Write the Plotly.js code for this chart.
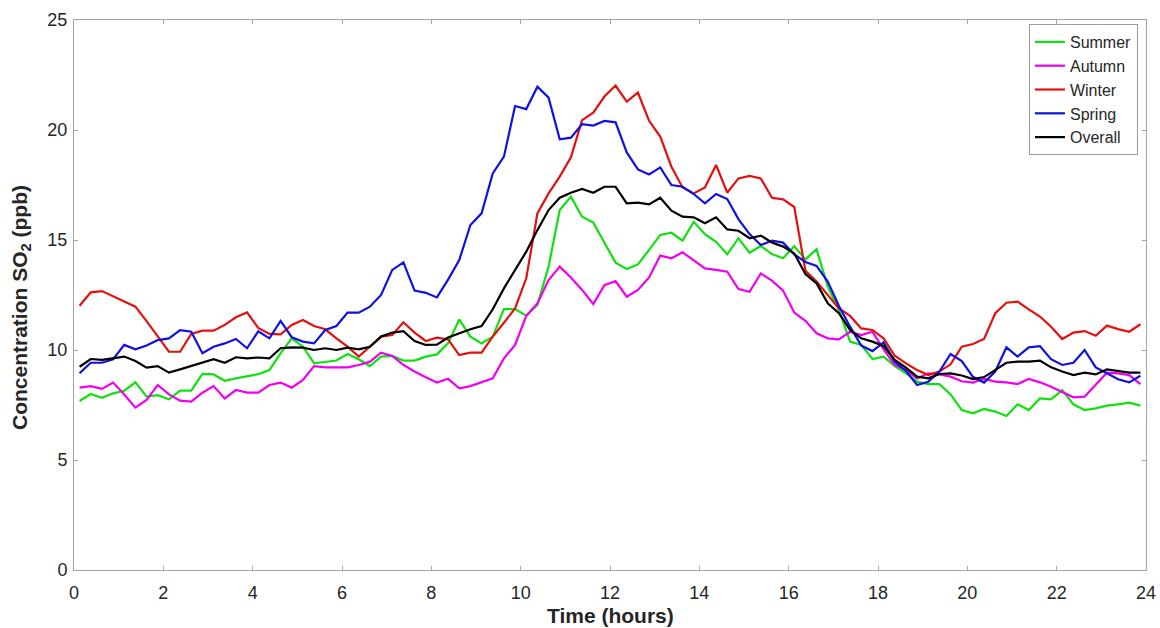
<!DOCTYPE html>
<html>
<head>
<meta charset="utf-8">
<script src="https://cdn.plot.ly/plotly-3.0.1.min.js"></script>
<style>
html,body{margin:0;padding:0;background:#fff;}
#chart{width:1160px;height:628px;}
</style>
</head>
<body>
<div id="chart"></div>
<script>
// Time of day (hours), 15-minute bins
var hours = [0.125,0.375,0.625,0.875,1.125,1.375,1.625,1.875,2.125,2.375,2.625,2.875,3.125,3.375,3.625,3.875,
4.125,4.375,4.625,4.875,5.125,5.375,5.625,5.875,6.125,6.375,6.625,6.875,7.125,7.375,7.625,7.875,
8.125,8.375,8.625,8.875,9.125,9.375,9.625,9.875,10.125,10.375,10.625,10.875,11.125,11.375,11.625,11.875,
12.125,12.375,12.625,12.875,13.125,13.375,13.625,13.875,14.125,14.375,14.625,14.875,15.125,15.375,15.625,15.875,
16.125,16.375,16.625,16.875,17.125,17.375,17.625,17.875,18.125,18.375,18.625,18.875,19.125,19.375,19.625,19.875,
20.125,20.375,20.625,20.875,21.125,21.375,21.625,21.875,22.125,22.375,22.625,22.875,23.125,23.375,23.625,23.875];

var seriesNames = ["Summer","Autumn","Winter","Spring","Overall"];
var seriesColors = ["#10E010","#F000F0","#E41010","#1010E0","#000000"];

var summer = [7.68,8.0,7.83,8.03,8.15,8.53,7.88,7.95,7.76,8.15,8.15,8.91,8.89,8.6,8.71,8.79,8.9,9.09,
9.85,10.53,10.15,9.39,9.47,9.52,9.82,9.58,9.27,9.7,9.73,9.52,9.52,9.70,9.8,10.3,
11.39,10.61,10.3,10.61,11.86,11.86,11.56,12.05,13.79,16.36,16.97,16.06,15.79,14.85,13.97,13.68,
13.89,14.55,15.23,15.33,14.97,15.83,15.26,14.92,14.35,15.08,14.42,14.73,14.36,14.17,14.72,14.12,
14.58,12.88,11.82,10.38,10.23,9.59,9.7,9.27,8.94,8.56,8.45,8.45,7.98,7.27,7.12,7.32,
7.2,7.0,7.53,7.27,7.8,7.76,8.18,7.53,7.27,7.35,7.47,7.53,7.61,7.47];

var autumn = [8.29,8.36,8.23,8.52,7.98,7.38,7.73,8.41,7.98,7.7,7.65,8.06,8.36,7.80,8.18,8.06,8.06,8.41,
8.52,8.29,8.64,9.27,9.21,9.21,9.21,9.32,9.47,9.88,9.73,9.32,9.02,8.76,8.52,8.69,
8.26,8.36,8.52,8.71,9.62,10.23,11.55,12.12,13.18,13.79,13.3,12.73,12.09,12.95,13.13,12.42,
12.73,13.3,14.29,14.17,14.44,14.09,13.71,13.64,13.56,12.77,12.65,13.48,13.15,12.7,11.7,11.33,
10.76,10.53,10.48,10.83,10.68,10.83,10.03,9.32,9.09,8.71,8.94,8.89,8.79,8.58,8.52,8.69,
8.56,8.53,8.45,8.68,8.53,8.33,8.08,7.85,7.88,8.41,8.97,8.94,8.86,8.45];

var winter = [12.01,12.62,12.68,12.45,12.2,11.97,11.31,10.63,9.92,9.92,10.73,10.88,10.88,11.14,11.49,11.71,11.0,10.73,
10.71,11.14,11.36,11.09,10.94,10.53,10.15,9.70,10.15,10.61,10.68,11.26,10.79,10.41,10.56,10.48,
9.77,9.88,9.88,10.61,11.24,11.89,13.26,16.21,17.12,17.88,18.76,20.45,20.79,21.52,22.02,21.29,
21.7,20.42,19.7,18.33,17.39,17.12,17.39,18.41,17.15,17.8,17.91,17.8,16.92,16.85,16.5,13.6,
13.11,12.5,11.89,11.55,10.98,10.91,10.53,9.74,9.39,9.09,8.86,9.02,9.35,10.15,10.27,10.5,
11.67,12.15,12.2,11.85,11.52,11.06,10.5,10.79,10.86,10.65,11.11,10.95,10.83,11.17];

var spring = [8.94,9.42,9.42,9.58,10.23,10.03,10.2,10.45,10.53,10.9,10.83,9.85,10.15,10.3,10.5,10.08,10.85,10.53,
11.32,10.58,10.38,10.30,10.91,11.09,11.7,11.7,11.97,12.5,13.64,13.98,12.7,12.6,12.39,13.2,
14.09,15.68,16.21,18.03,18.79,21.09,20.95,21.97,21.47,19.58,19.65,20.27,20.2,20.41,20.35,18.98,
18.21,17.98,18.3,17.5,17.42,17.09,16.67,17.09,16.86,15.95,15.27,14.77,14.97,14.88,14.35,14.0,
13.82,13.11,12.0,11.06,10.2,9.95,10.35,9.47,9.05,8.41,8.56,9.02,9.82,9.5,8.78,8.52,
9.02,10.12,9.7,10.12,10.18,9.58,9.32,9.42,10.0,9.21,8.94,8.67,8.53,8.83];

var overall = [9.24,9.59,9.55,9.62,9.7,9.5,9.2,9.27,8.97,9.12,9.27,9.42,9.58,9.42,9.67,9.62,9.66,9.62,
10.08,10.12,10.11,10.0,10.08,10.0,10.11,10.03,10.15,10.61,10.79,10.86,10.41,10.23,10.24,10.57,
10.76,10.94,11.09,11.85,12.8,13.64,14.47,15.45,16.36,16.92,17.15,17.32,17.15,17.42,17.42,16.67,
16.70,16.62,16.92,16.33,16.06,16.03,15.76,16.03,15.48,15.42,15.08,15.2,14.89,14.7,14.39,13.45,
13.03,12.12,11.67,10.91,10.53,10.38,10.18,9.55,9.2,8.79,8.71,8.91,8.94,8.84,8.68,8.77,
9.09,9.42,9.47,9.47,9.52,9.21,9.02,8.86,8.97,8.89,9.12,9.05,8.97,8.97];

var xTickVals = [0,2,4,6,8,10,12,14,16,18,20,22,24];
var yTickVals = [0,5,10,15,20,25];
var xTitle = 'Time (hours)';
var yTitle = 'Concentration SO<sub>2</sub> (ppb)';

var allSeries = [summer, autumn, winter, spring, overall];
var traces = allSeries.map(function(vals, i){
  return {
    type: 'scatter',
    mode: 'lines',
    x: hours,
    y: vals,
    name: seriesNames[i],
    line: {color: seriesColors[i], width: 2.2}
  };
});

var axisColor = '#a3a3a3';
var fam = 'Liberation Sans, Arial, sans-serif';
var tickFont = {family: fam, size: 18, color: '#262626'};
var titleFont = {family: fam, size: 21, color: '#262626'};

var layout = {
  width: 1160,
  height: 628,
  margin: {l: 74, r: 14, t: 20, b: 58, pad: 0},
  paper_bgcolor: '#ffffff',
  plot_bgcolor: '#ffffff',
  showlegend: true,
  xaxis: {
    range: [0, 24],
    tickvals: xTickVals,
    ticks: 'inside',
    ticklen: 4,
    tickcolor: axisColor,
    showline: true,
    linecolor: axisColor,
    linewidth: 1,
    mirror: 'ticks',
    showgrid: false,
    zeroline: false,
    tickfont: tickFont,
    ticklabelstandoff: 6
  },
  yaxis: {
    range: [0, 25],
    tickvals: yTickVals,
    ticks: 'inside',
    ticklen: 4,
    tickcolor: axisColor,
    showline: true,
    linecolor: axisColor,
    linewidth: 1,
    mirror: 'ticks',
    showgrid: false,
    zeroline: false,
    tickfont: tickFont,
    ticklabelstandoff: 2
  },
  annotations: [
    {
      text: '<b>' + xTitle + '</b>',
      xref: 'paper', yref: 'paper',
      x: 0.5009, y: -0.0836,
      xanchor: 'center', yanchor: 'middle',
      showarrow: false,
      font: {family: fam, size: 21, color: '#262626'}
    },
    {
      text: '<b>' + yTitle + '</b>',
      xref: 'paper', yref: 'paper',
      x: -0.0494, y: 0.4764,
      xanchor: 'center', yanchor: 'middle',
      textangle: -90,
      showarrow: false,
      font: titleFont
    }
  ],
  legend: {
    x: 0.9925,
    y: 0.9927,
    xanchor: 'right',
    yanchor: 'top',
    bgcolor: '#ffffff',
    bordercolor: '#9a9a9a',
    borderwidth: 1,
    font: {family: fam, size: 16, color: '#262626'},
    tracegroupgap: 0
  }
};

Plotly.newPlot('chart', traces, layout, {displayModeBar: false, staticPlot: true});
</script>
</body>
</html>
